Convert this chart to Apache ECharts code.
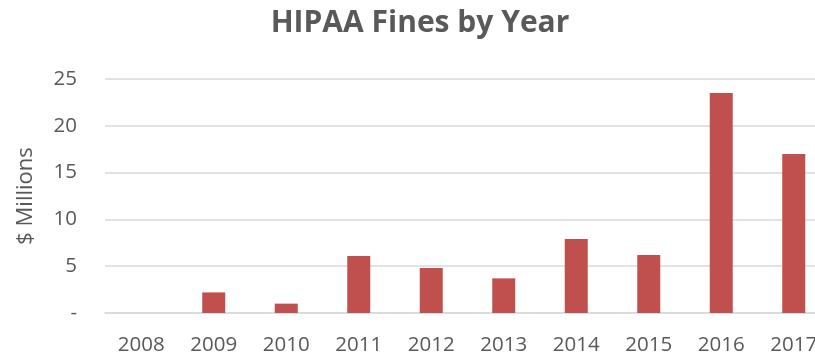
<!DOCTYPE html>
<html>
<head>
<meta charset="utf-8">
<script src="https://cdn.jsdelivr.net/npm/echarts@6/dist/echarts.min.js"></script>
<style>
  html, body { margin: 0; padding: 0; background: #fff; }
  #chart { width: 815px; height: 353px; }
</style>
</head>
<body>
<div id="chart"></div>
<script>
// HIPAA fines per year, in millions of dollars
const years = ['2008', '2009', '2010', '2011', '2012', '2013', '2014', '2015', '2016', '2017'];
const finesMillions = [0, 2.2, 1.0, 6.1, 4.8, 3.7, 7.9, 6.2, 23.5, 17.0];
const yTicks = [0, 5, 10, 15, 20, 25];

const FONT = '"Open Sans", "Liberation Sans", sans-serif';
const TEXT_GRAY = '#595959';

const chart = echarts.init(document.getElementById('chart'), null, { renderer: 'canvas' });

chart.setOption({
  animation: false,
  backgroundColor: '#ffffff',
  title: {
    text: 'HIPAA Fines by Year',
    left: 415,
    textAlign: 'center',
    top: 3,
    textStyle: {
      fontFamily: FONT,
      fontWeight: 'bold',
      fontSize: 30,
      color: TEXT_GRAY
    }
  },
  // the plot runs past the right edge of the canvas, so the last column is clipped
  grid: {
    left: 105,
    width: 725,
    top: 79,
    bottom: 40,
    containLabel: false,
    outerBoundsMode: 'none'
  },
  xAxis: {
    type: 'category',
    data: years,
    axisLine: { show: true, lineStyle: { color: '#d9d9d9', width: 1.5 } },
    axisTick: { show: false },
    axisLabel: {
      margin: 22,
      fontFamily: FONT,
      fontSize: 20.5,
      color: TEXT_GRAY,
      hideOverlap: false
    }
  },
  yAxis: {
    type: 'value',
    min: yTicks[0],
    max: yTicks[yTicks.length - 1],
    interval: yTicks[1] - yTicks[0],
    name: '$ Millions',
    nameLocation: 'middle',
    nameGap: 68,
    nameTextStyle: {
      fontFamily: FONT,
      fontSize: 22,
      color: TEXT_GRAY
    },
    axisLine: { show: false },
    axisTick: { show: false },
    splitLine: { lineStyle: { color: '#d9d9d9', width: 1.5 } },
    axisLabel: {
      margin: 28,
      fontFamily: FONT,
      fontSize: 20.5,
      color: TEXT_GRAY,
      formatter: v => (v === 0 ? '-' : String(v))
    }
  },
  series: [{
    type: 'bar',
    data: finesMillions,
    barWidth: 23,
    itemStyle: { color: '#C0504D' }
  }]
});
</script>
</body>
</html>
